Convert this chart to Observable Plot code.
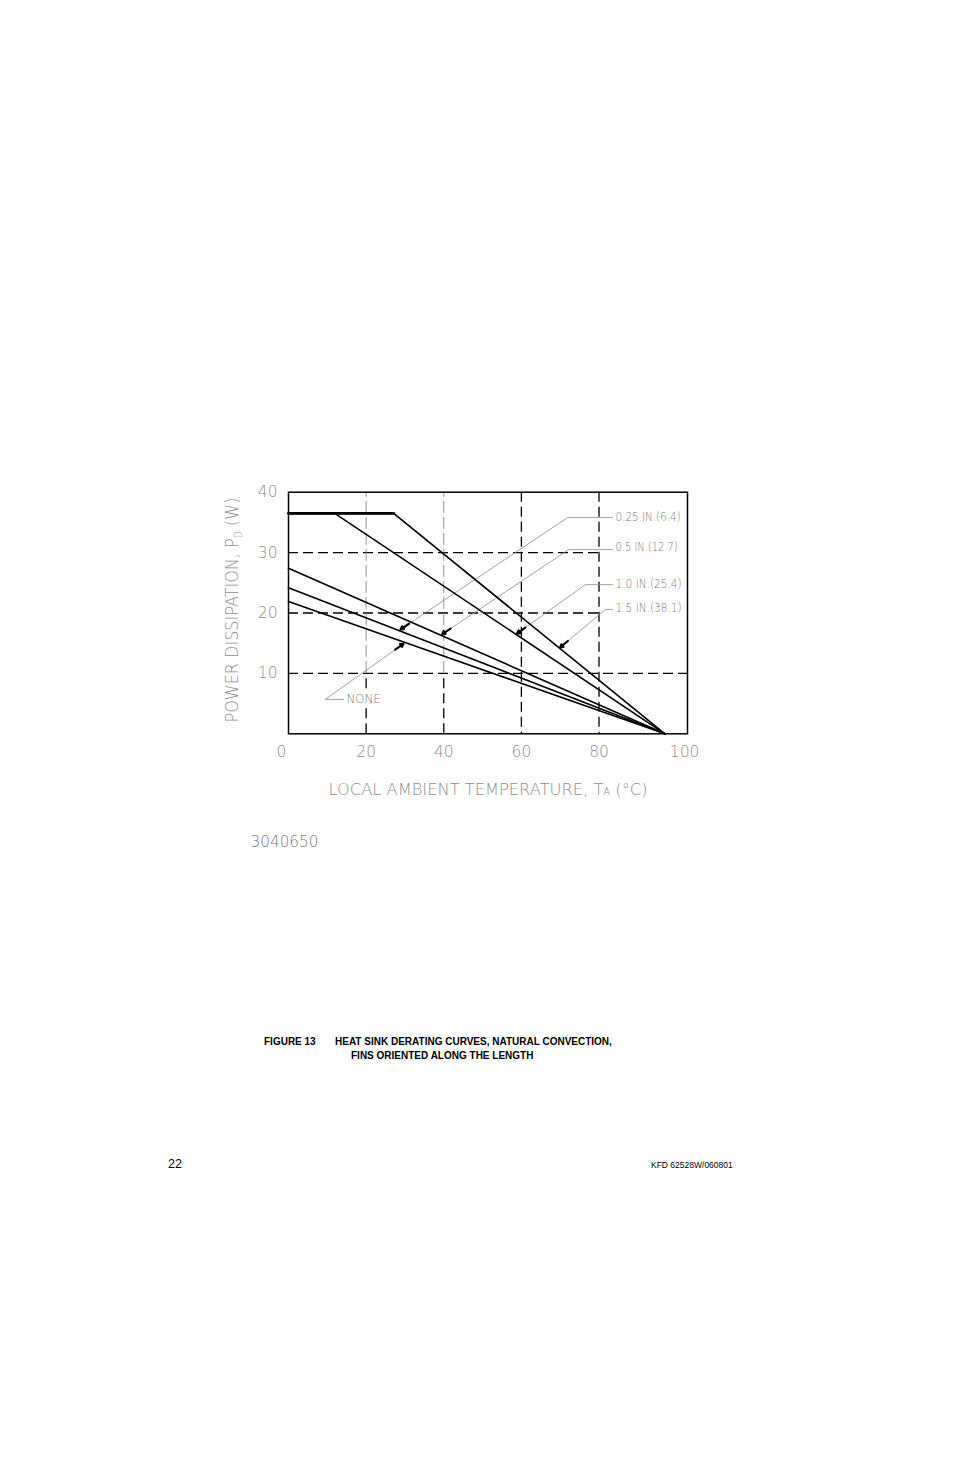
<!DOCTYPE html>
<html><head><meta charset="utf-8">
<script src="https://cdn.jsdelivr.net/npm/d3@7"></script>
<script src="https://cdn.jsdelivr.net/npm/@observablehq/plot@0.6"></script>
<style>
body{margin:0;background:#fff;}
#page{position:relative;width:954px;height:1475px;background:#fff;overflow:hidden;}
#chart{position:absolute;left:0;top:0;}
.cap{position:absolute;font-family:"Liberation Sans",Arial,sans-serif;font-weight:bold;font-size:10px;white-space:pre;color:#000;line-height:12px;}
.foot{position:absolute;font-family:"Liberation Sans",Arial,sans-serif;white-space:pre;color:#000;}
</style></head>
<body><div id="page"><div id="chart"></div>
<div class="cap" style="left:264px;top:1036px">FIGURE 13</div>
<div class="cap" style="left:335px;top:1036px">HEAT SINK DERATING CURVES, NATURAL CONVECTION,</div>
<div class="cap" style="left:351px;top:1050px">FINS ORIENTED ALONG THE LENGTH</div>
<div class="foot" style="left:168px;top:1157px;font-size:12.5px">22</div>
<div class="foot" style="left:651px;top:1160px;font-size:8.5px">KFD 62528W/060801</div>
</div>
<script>
// ---- data ----
const seriesNames = ["NONE", "0.25 IN.(6.4)", "0.5 IN.(12.7)", "1.0 IN.(25.4)", "1.5 IN.(38.1)"];
const seriesTemps = [[0, 97], [0, 97], [0, 97], [0, 11.9, 97], [0, 27.1, 97]];
const seriesPower = [[21.9, 0], [24.2, 0], [27.4, 0], [36.5, 36.5, 0], [36.5, 36.5, 0]];
const xTicks = [0, 20, 40, 60, 80, 100];
const yTicks = [10, 20, 30, 40];
const hGridShort = [20, 30];
const hGridFull = [10];
// leader annotation: tip (on curve), elbow, end (data coords)
const leaderTipT = [29.6, 28.9, 39.6, 58.9, 70.0];
const leaderTipP = [14.9, 17.3, 16.5, 16.6, 14.3];
const leaderElbowT = [9.5, 71.9, 72.2, 76.5, 81.7];
const leaderElbowP = [5.7, 35.8, 30.5, 24.7, 20.6];
const leaderEndT = [14.2, 83.5, 83.5, 83.5, 83.5];
const labelP = [5.7, 35.8, 30.9, 24.8, 20.8];
const xTitle = "LOCAL AMBIENT TEMPERATURE, TA (°C)";
const yTitle = "POWER DISSIPATION, PD (W)";
const drawingNo = "3040650";

// ---- derived tables ----
const curveRows = seriesNames.flatMap((n, i) => seriesTemps[i].map((t, j) => ({name: n, t, p: seriesPower[i][j]})));
const flatRows = [{t: seriesTemps[4][0], p: seriesPower[4][0]}, {t: seriesTemps[4][1], p: seriesPower[4][1]}];
const leaderRows = seriesNames.flatMap((n, i) => [
  {name: n, t: leaderTipT[i], p: leaderTipP[i]},
  {name: n, t: leaderElbowT[i], p: leaderElbowP[i]},
  {name: n, t: leaderEndT[i], p: leaderElbowP[i]}
]);
const labelRows = seriesNames.map((n, i) => ({name: n, t: leaderEndT[i], p: labelP[i]}));

const W = 954, H = 870, mL = 288, mR = 267, mT = 491.7, mB = 136.7;
const xMax = 102.8;
const pxX = (W - mL - mR) / xMax, pxY = (H - mT - mB) / 40;
const arrowRows = seriesNames.map((n, i) => {
  const dxp = (leaderElbowT[i] - leaderTipT[i]) * pxX, dyp = (leaderElbowP[i] - leaderTipP[i]) * pxY;
  const f = 10 / Math.hypot(dxp, dyp);
  return {x1: leaderTipT[i] + (leaderElbowT[i] - leaderTipT[i]) * f, y1: leaderTipP[i] + (leaderElbowP[i] - leaderTipP[i]) * f, x2: leaderTipT[i], y2: leaderTipP[i]};
});

const grey = "#8e8e8e";
const lightFont = "'DejaVu Sans', sans-serif";
const dash = "10,5";

const chart = Plot.plot({
  width: W, height: H,
  marginLeft: mL, marginRight: mR, marginTop: mT, marginBottom: mB,
  x: {domain: [0, xMax], axis: null},
  y: {domain: [0, 40], axis: null},
  style: {background: "white", overflow: "visible", fontFamily: lightFont},
  marks: [
    Plot.ruleY(hGridShort, {x1: 0, x2: 80, stroke: "black", strokeWidth: 1.3, strokeDasharray: dash}),
    Plot.ruleY(hGridFull, {stroke: "black", strokeWidth: 1.3, strokeDasharray: dash}),
    Plot.ruleX([60, 80], {stroke: "black", strokeWidth: 1.3, strokeDasharray: dash}),
    Plot.ruleX([20, 40], {y1: 0, y2: 10, stroke: "black", strokeWidth: 1.3, strokeDasharray: dash}),
    Plot.ruleX([20, 40], {y1: 10, y2: 40, stroke: "#8a8a8a", strokeWidth: 0.9, strokeDasharray: "12,4"}),
    Plot.line(leaderRows, {x: "t", y: "p", z: "name", stroke: "#8a8a8a", strokeWidth: 0.8}),
    Plot.line(curveRows, {x: "t", y: "p", z: "name", stroke: "black", strokeWidth: 1.6}),
    Plot.line(flatRows, {x: "t", y: "p", stroke: "black", strokeWidth: 2.8}),
    Plot.arrow(arrowRows, {x1: "x1", y1: "y1", x2: "x2", y2: "y2", stroke: "black", strokeWidth: 2.2, headLength: 6}),
    Plot.frame({stroke: "black", strokeWidth: 1.5}),
    Plot.text(labelRows, {x: "t", y: "p", text: "name", textAnchor: "start", dx: 3, fill: "#7a7a7a", stroke: "white", strokeWidth: 4, fontSize: 12, fontWeight: 200}),
    Plot.text(yTicks, {x: 0, y: d => d, text: d => String(d), textAnchor: "end", dx: -11, fill: grey, fontSize: 15.5, fontWeight: 200}),
    Plot.text(xTicks, {x: d => d, y: 0, text: d => String(d), dy: 18, fill: grey, fontSize: 15.5, fontWeight: 200, lineAnchor: "middle"}),
    Plot.text([xTitle], {frameAnchor: "bottom", dy: 56, text: d => d, textAnchor: "middle", fill: grey, fontSize: 16.5, fontWeight: 200, lineAnchor: "middle"}),
    Plot.text([yTitle], {frameAnchor: "left", dx: -56.3, dy: -3, rotate: -90, text: d => d, textAnchor: "middle", fill: grey, fontSize: 17, fontWeight: 200, lineAnchor: "middle"}),
    Plot.text([drawingNo], {frameAnchor: "bottom-left", dx: -38, dy: 108.7, text: d => d, textAnchor: "start", fill: "#7a7a7a", fontSize: 15.5, fontWeight: 200, lineAnchor: "middle"})
  ]
});
document.getElementById("chart").appendChild(chart);

// ---- text fitting / sub-scripts ----
const widths = {"0.25 IN.(6.4)": 65, "0.5 IN.(12.7)": 62, "1.0 IN.(25.4)": 66, "1.5 IN.(38.1)": 66, "NONE": 34};
d3.select(chart).selectAll("text").each(function() {
  const s = this.textContent;
  const el = d3.select(this);
  if (widths[s]) el.attr("textLength", widths[s]).attr("lengthAdjust", "spacingAndGlyphs");
  if (s === "0") el.attr("dx", -7);
  if (s === "100") el.attr("dx", 8);
  if (s === xTitle) {
    el.text(null);
    el.append("tspan").text("LOCAL AMBIENT TEMPERATURE, T");
    el.append("tspan").attr("font-size", 10).text("A");
    el.append("tspan").text(" (°C)");
    el.attr("textLength", 319).attr("lengthAdjust", "spacingAndGlyphs");
  }
  if (s === yTitle) {
    el.text(null);
    el.append("tspan").text("POWER DISSIPATION, P");
    el.append("tspan").attr("font-size", 10).attr("dy", 4).text("D");
    el.append("tspan").attr("dy", -4).text(" (W)");
    el.attr("textLength", 225).attr("lengthAdjust", "spacingAndGlyphs");
  }
  if (s === drawingNo) el.attr("textLength", 68).attr("lengthAdjust", "spacingAndGlyphs");
});
</script>
</body></html>
